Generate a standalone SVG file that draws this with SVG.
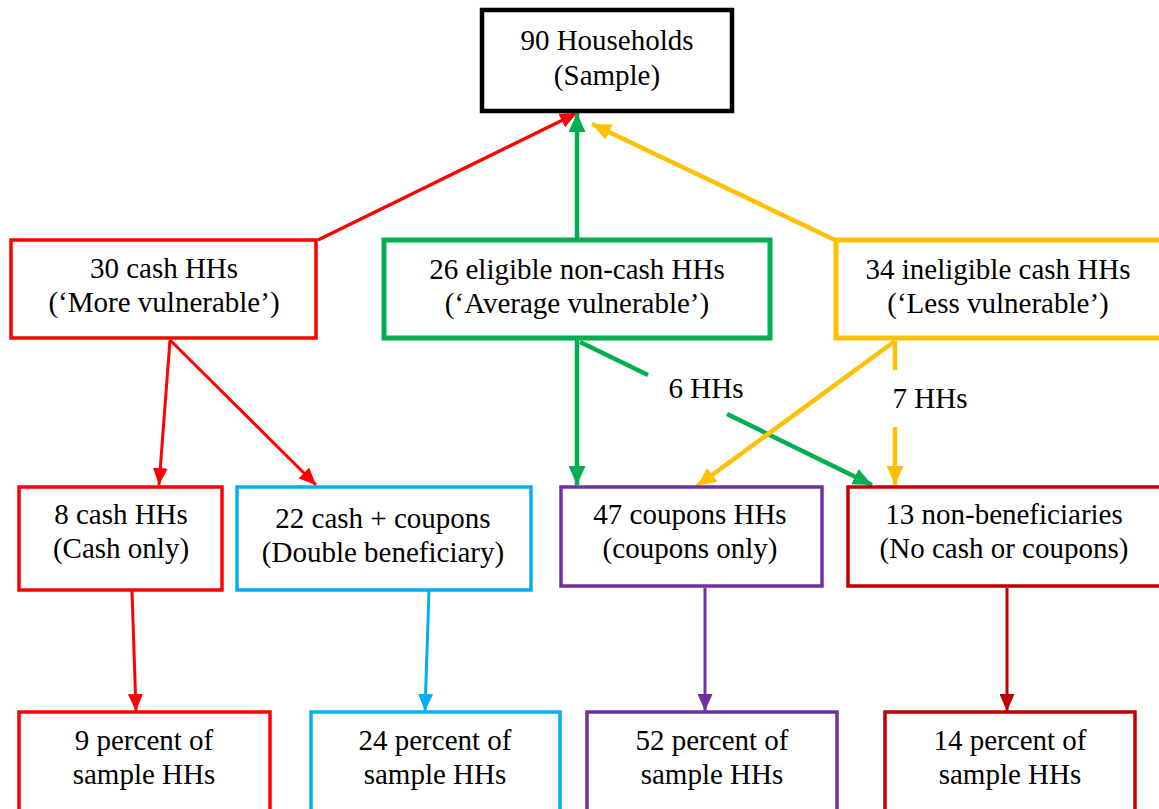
<svg xmlns="http://www.w3.org/2000/svg" width="1159" height="809" viewBox="0 0 1159 809">
<defs>
<style>
.t text{font-size:29px;fill:#000;text-anchor:middle}
rect{fill:#fff}
.red{stroke:#FF0000}
.green{stroke:#00B050}
.yellow{stroke:#FFC000}
.blue{stroke:#00B0F0}
.purple{stroke:#7030A0}
.dred{stroke:#C00000}
.blk{stroke:#000}
line{fill:none}
</style>
<marker id="mr" markerUnits="userSpaceOnUse" markerWidth="17" markerHeight="15" refX="17" refY="7.5" orient="auto"><path d="M0,0L17,7.5L0,15z" fill="#FF0000"/></marker>
<marker id="mg" markerUnits="userSpaceOnUse" markerWidth="19" markerHeight="17" refX="19" refY="8.5" orient="auto"><path d="M0,0L19,8.5L0,17z" fill="#00B050"/></marker>
<marker id="my" markerUnits="userSpaceOnUse" markerWidth="19" markerHeight="17" refX="19" refY="8.5" orient="auto"><path d="M0,0L19,8.5L0,17z" fill="#FFC000"/></marker>
<marker id="mb" markerUnits="userSpaceOnUse" markerWidth="17" markerHeight="15" refX="17" refY="7.5" orient="auto"><path d="M0,0L17,7.5L0,15z" fill="#00B0F0"/></marker>
<marker id="mp" markerUnits="userSpaceOnUse" markerWidth="17" markerHeight="15" refX="17" refY="7.5" orient="auto"><path d="M0,0L17,7.5L0,15z" fill="#7030A0"/></marker>
<marker id="md" markerUnits="userSpaceOnUse" markerWidth="17" markerHeight="15" refX="17" refY="7.5" orient="auto"><path d="M0,0L17,7.5L0,15z" fill="#C00000"/></marker>
</defs>
<rect x="0" y="0" width="1159" height="809" fill="#fff"/>
<g class="t" font-family="'Liberation Serif', 'Times New Roman', serif">
<g id="connectors">
<line class="red" stroke-width="3.5" x1="318" y1="240" x2="577" y2="113" marker-end="url(#mr)"/>
<line class="green" stroke-width="4.5" x1="577" y1="240" x2="577" y2="113" marker-end="url(#mg)"/>
<line class="yellow" stroke-width="4.5" x1="835" y1="240" x2="592" y2="124" marker-end="url(#my)"/>
<line class="red" stroke-width="3" x1="170" y1="340" x2="159" y2="485" marker-end="url(#mr)"/>
<line class="red" stroke-width="3" x1="170" y1="340" x2="316" y2="485" marker-end="url(#mr)"/>
<line class="green" stroke-width="4.5" x1="577" y1="340" x2="577" y2="485" marker-end="url(#mg)"/>
<line class="green" stroke-width="4.5" x1="580" y1="342" x2="648" y2="375"/>
<line class="green" stroke-width="4.5" x1="727" y1="414" x2="872" y2="485" marker-end="url(#mg)"/>
<line class="yellow" stroke-width="4.5" x1="895" y1="341" x2="697" y2="486" marker-end="url(#my)"/>
<line class="yellow" stroke-width="4.5" x1="895" y1="341" x2="895" y2="370"/>
<line class="yellow" stroke-width="4.5" x1="895" y1="427" x2="895" y2="485" marker-end="url(#my)"/>
<line class="red" stroke-width="3" x1="132" y1="591" x2="136" y2="711" marker-end="url(#mr)"/>
<line class="blue" stroke-width="3" x1="429" y1="591" x2="425" y2="711" marker-end="url(#mb)"/>
<line class="purple" stroke-width="3" x1="705" y1="588" x2="705" y2="711" marker-end="url(#mp)"/>
<line class="dred" stroke-width="3" x1="1007" y1="588" x2="1007" y2="711" marker-end="url(#md)"/>
<text x="706" y="398">6 HHs</text>
<text x="930" y="408">7 HHs</text>
</g>

<g id="n-sample">
<rect class="blk" stroke-width="4.5" x="482" y="10" width="250" height="101"/>
<text x="607" y="50">90 Households</text>
<text x="607" y="85">(Sample)</text>
</g>
<g id="n-cash">
<rect class="red" stroke-width="3.5" x="11" y="240" width="305" height="98"/>
<text x="164" y="278">30 cash HHs</text>
<text x="164" y="312">(‘More vulnerable’)</text>
</g>
<g id="n-eligible">
<rect class="green" stroke-width="5" x="384" y="240" width="386" height="98"/>
<text x="577" y="279">26 eligible non-cash HHs</text>
<text x="577" y="313">(‘Average vulnerable’)</text>
</g>
<g id="n-ineligible">
<rect class="yellow" stroke-width="5" x="836" y="240" width="330" height="98"/>
<text x="998" y="279">34 ineligible cash HHs</text>
<text x="998" y="313">(‘Less vulnerable’)</text>
</g>
<g id="n-cashonly">
<rect class="red" stroke-width="3.5" x="19" y="487" width="203" height="103"/>
<text x="121" y="524">8 cash HHs</text>
<text x="121" y="558">(Cash only)</text>
</g>
<g id="n-double">
<rect class="blue" stroke-width="3.5" x="237" y="487" width="294" height="103"/>
<text x="383" y="528">22 cash + coupons</text>
<text x="383" y="562">(Double beneficiary)</text>
</g>
<g id="n-coupons">
<rect class="purple" stroke-width="3.5" x="561" y="487" width="261" height="99"/>
<text x="690" y="524">47 coupons HHs</text>
<text x="690" y="558">(coupons only)</text>
</g>
<g id="n-nonben">
<rect class="dred" stroke-width="3.5" x="848" y="487" width="320" height="99"/>
<text x="1004" y="524">13 non-beneficiaries</text>
<text x="1004" y="558">(No cash or coupons)</text>
</g>
<g id="n-p9">
<rect class="red" stroke-width="3.5" x="19" y="712" width="251" height="110"/>
<text x="144" y="750">9 percent of</text>
<text x="144" y="784">sample HHs</text>
</g>
<g id="n-p24">
<rect class="blue" stroke-width="3.5" x="311" y="712" width="249" height="110"/>
<text x="435" y="750">24 percent of</text>
<text x="435" y="784">sample HHs</text>
</g>
<g id="n-p52">
<rect class="purple" stroke-width="3.5" x="587" y="712" width="250" height="110"/>
<text x="712" y="750">52 percent of</text>
<text x="712" y="784">sample HHs</text>
</g>
<g id="n-p14">
<rect class="dred" stroke-width="3.5" x="885" y="712" width="250" height="110"/>
<text x="1010" y="750">14 percent of</text>
<text x="1010" y="784">sample HHs</text>
</g>
</g>
</svg>
